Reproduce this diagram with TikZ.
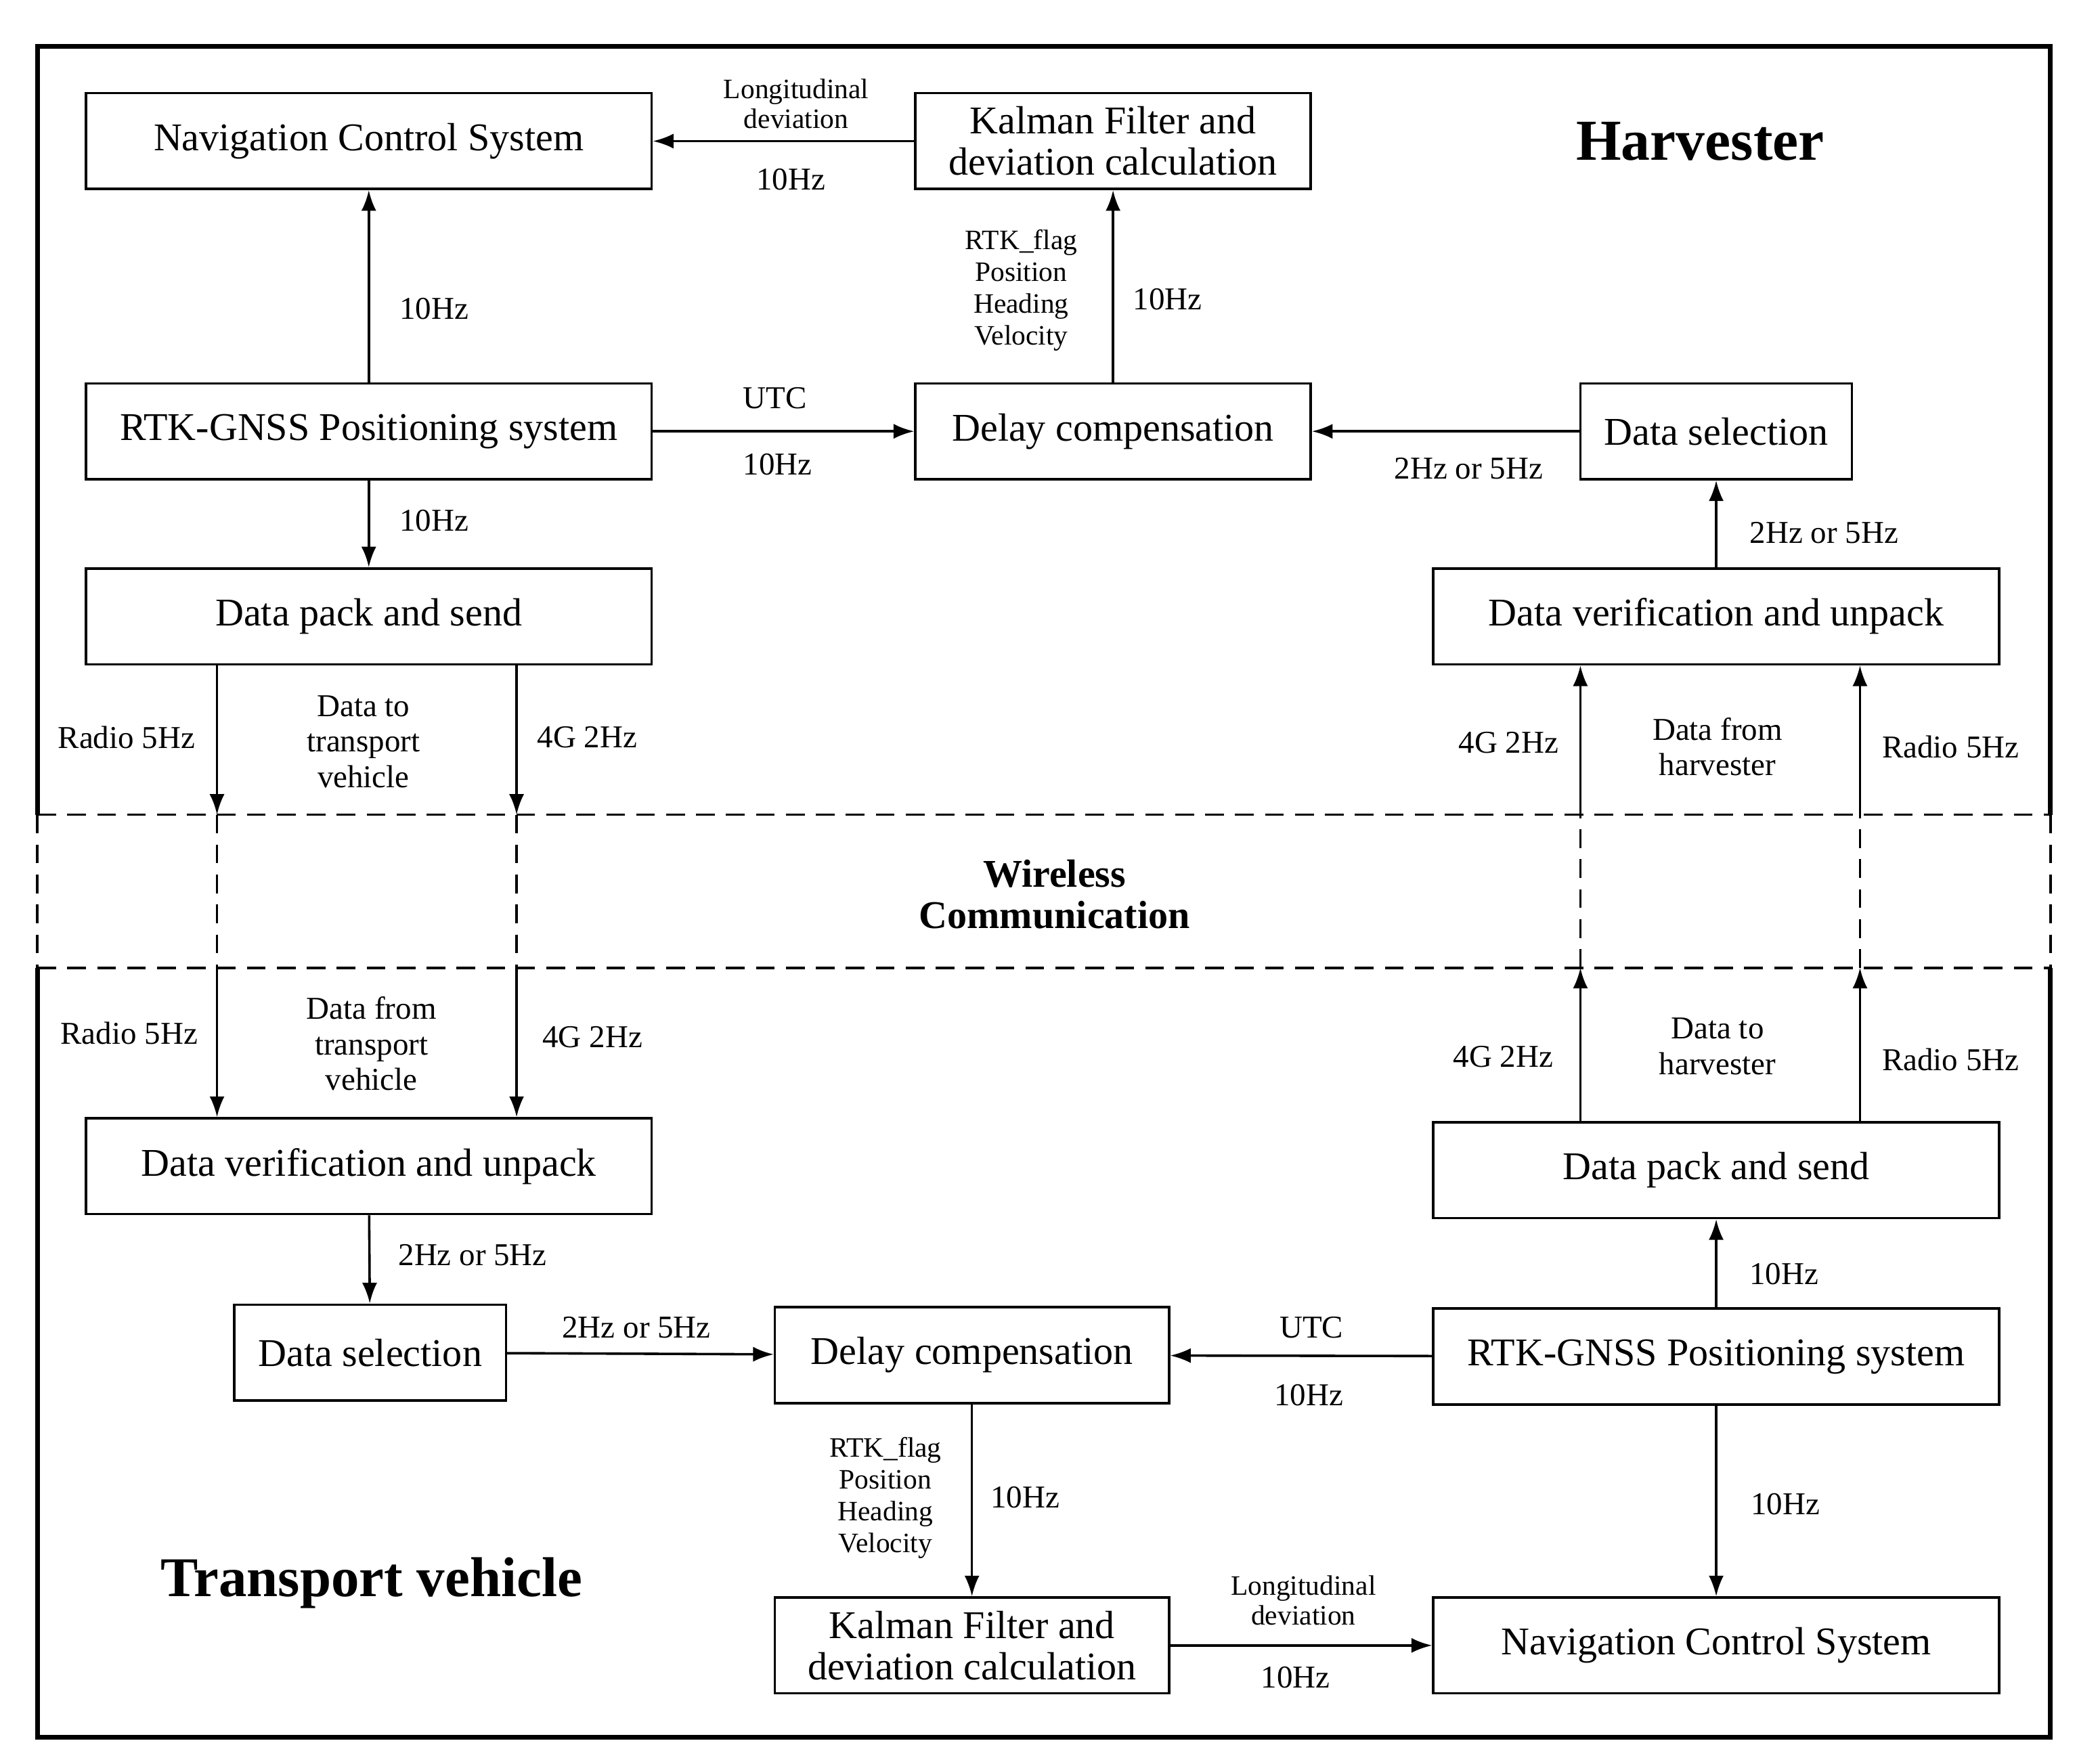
\documentclass[tikz,border=0pt]{standalone}
\usepackage{fontspec}
\setmainfont{Liberation Serif}
\usetikzlibrary{arrows.meta}
\begin{document}
\begin{tikzpicture}[x=0.05cm,y=-0.05cm,
 box/.style={draw,line width=2.6pt,minimum height=3.6cm,inner sep=0pt,font=\fontsize{42}{50}\selectfont,align=center},
 lab/.style={font=\fontsize{34}{40}\selectfont,align=center,inner sep=0pt},
 slab/.style={font=\fontsize{30}{36}\selectfont,align=center,inner sep=0pt},
 arr/.style={line width=2.6pt,-{Latex[length=22pt,width=16pt]}},
 dl/.style={line width=2.6pt,dash pattern=on 20pt off 12pt}]
\useasboundingbox (0,0) rectangle (1560,1325);
% frame
\draw[line width=5pt] (28,612) -- (28,35) -- (1540,35) -- (1540,612);
\draw[line width=5pt] (28,727) -- (28,1305) -- (1540,1305) -- (1540,727);
\draw[dl] (28,612) -- (1540,612); \draw[dl] (28,727) -- (1540,727);
\draw[dl] (28,612) -- (28,727); \draw[dl] (1540,612) -- (1540,727);
% nodes top
\node[box,minimum width=21.25cm] (ncs1) at (277,106) {Navigation Control System};
\node[box,minimum width=14.85cm] (kf1) at (836,106) {Kalman Filter and\\[-6pt]deviation calculation};
\node[box,minimum width=21.25cm] (rtk1) at (277,324) {RTK-GNSS Positioning system};
\node[box,minimum width=14.85cm] (dc1) at (836,324) {Delay compensation};
\node[box,minimum width=10.2cm] (ds1) at (1289,324) {Data selection};
\node[box,minimum width=21.25cm] (pk1) at (277,463) {Data pack and send};
\node[box,minimum width=21.25cm] (vf1) at (1289,463) {Data verification and unpack};
% nodes bottom
\node[box,minimum width=21.25cm] (vf2) at (277,876) {Data verification and unpack};
\node[box,minimum width=10.2cm] (ds2) at (278,1016) {Data selection};
\node[box,minimum width=14.8cm] (dc2) at (730,1018) {Delay compensation};
\node[box,minimum width=21.25cm] (rtk2) at (1289,1019) {RTK-GNSS Positioning system};
\node[box,minimum width=21.25cm] (pk2) at (1289,879) {Data pack and send};
\node[box,minimum width=14.8cm] (kf2) at (730,1236) {Kalman Filter and\\[-6pt]deviation calculation};
\node[box,minimum width=21.25cm] (ncs2) at (1289,1236) {Navigation Control System};
% titles
\node[font=\bfseries\fontsize{62}{70}\selectfont] (h) at (1277,106) {Harvester};
\node[font=\bfseries\fontsize{60}{70}\selectfont] (t) at (279,1189) {Transport vehicle};
\node[font=\bfseries\fontsize{42}{48}\selectfont,align=center] (w) at (792,672) {Wireless\\[-4pt]Communication};
% top arrows
\draw[arr] (kf1) -- (ncs1);
\node[slab] at (598,78) {Longitudinal\\[-4pt]deviation};
\node[lab] at (594,135) {10Hz};
\draw[arr] (rtk1) -- (ncs1); \node[lab] at (326,232) {10Hz};
\draw[arr] (rtk1) -- (dc1); \node[lab] at (582,299) {UTC}; \node[lab] at (584,349) {10Hz};
\draw[arr] (dc1) -- (kf1); \node[lab] at (877,225) {10Hz};
\node[slab] at (767,218) {RTK\_flag\\[-2pt]Position\\[-2pt]Heading\\[-2pt]Velocity};
\draw[arr] (ds1) -- (dc1); \node[lab] at (1103,352) {2Hz or 5Hz};
\draw[arr] (vf1) -- (ds1); \node[lab] at (1370,400) {2Hz or 5Hz};
\draw[arr] (rtk1) -- (pk1); \node[lab] at (326,391) {10Hz};
% wireless harvester->transport
\coordinate (a1) at (163,612); \coordinate (a2) at (388,612);
\coordinate (a3) at (163,727); \coordinate (a4) at (388,727);
\draw[arr] (pk1.south -| a1) -- (a1); \draw[arr] (pk1.south -| a2) -- (a2);
\draw[dl] (a1) -- (a3); \draw[dl] (a2) -- (a4);
\draw[arr] (a3) -- (vf2.north -| a3); \draw[arr] (a4) -- (vf2.north -| a4);
\node[lab] at (95,554) {Radio 5Hz}; \node[lab] at (441,554) {4G 2Hz};
\node[lab] at (273,557) {Data to\\[-2pt]transport\\[-2pt]vehicle};
\node[lab] at (97,776) {Radio 5Hz}; \node[lab] at (445,779) {4G 2Hz};
\node[lab] at (279,784) {Data from\\[-2pt]transport\\[-2pt]vehicle};
% transport->harvester
\coordinate (b1) at (1187,727); \coordinate (b2) at (1397,727);
\coordinate (b3) at (1187,612); \coordinate (b4) at (1397,612);
\draw[arr] (pk2.north -| b1) -- (b1); \draw[arr] (pk2.north -| b2) -- (b2);
\draw[dl] (b1) -- (b3); \draw[dl] (b2) -- (b4);
\draw[arr] (b3) -- (vf1.south -| b3); \draw[arr] (b4) -- (vf1.south -| b4);
\node[lab] at (1133,558) {4G 2Hz}; \node[lab] at (1465,561) {Radio 5Hz};
\node[lab] at (1290,561) {Data from\\[-2pt]harvester};
\node[lab] at (1129,794) {4G 2Hz}; \node[lab] at (1465,796) {Radio 5Hz};
\node[lab] at (1290,786) {Data to\\[-2pt]harvester};
% bottom arrows
\draw[arr] (vf2) -- (ds2); \node[lab] at (355,943) {2Hz or 5Hz};
\draw[arr] (ds2) -- (dc2); \node[lab] at (478,997) {2Hz or 5Hz};
\draw[arr] (rtk2) -- (dc2); \node[lab] at (985,997) {UTC}; \node[lab] at (983,1048) {10Hz};
\draw[arr] (rtk2) -- (pk2); \node[lab] at (1340,957) {10Hz};
\draw[arr] (rtk2) -- (ncs2); \node[lab] at (1341,1130) {10Hz};
\draw[arr] (dc2) -- (kf2); \node[lab] at (770,1125) {10Hz};
\node[slab] at (665,1125) {RTK\_flag\\[-2pt]Position\\[-2pt]Heading\\[-2pt]Velocity};
\draw[arr] (kf2) -- (ncs2);
\node[slab] at (979,1202) {Longitudinal\\[-4pt]deviation};
\node[lab] at (973,1260) {10Hz};
\end{tikzpicture}
\end{document}
